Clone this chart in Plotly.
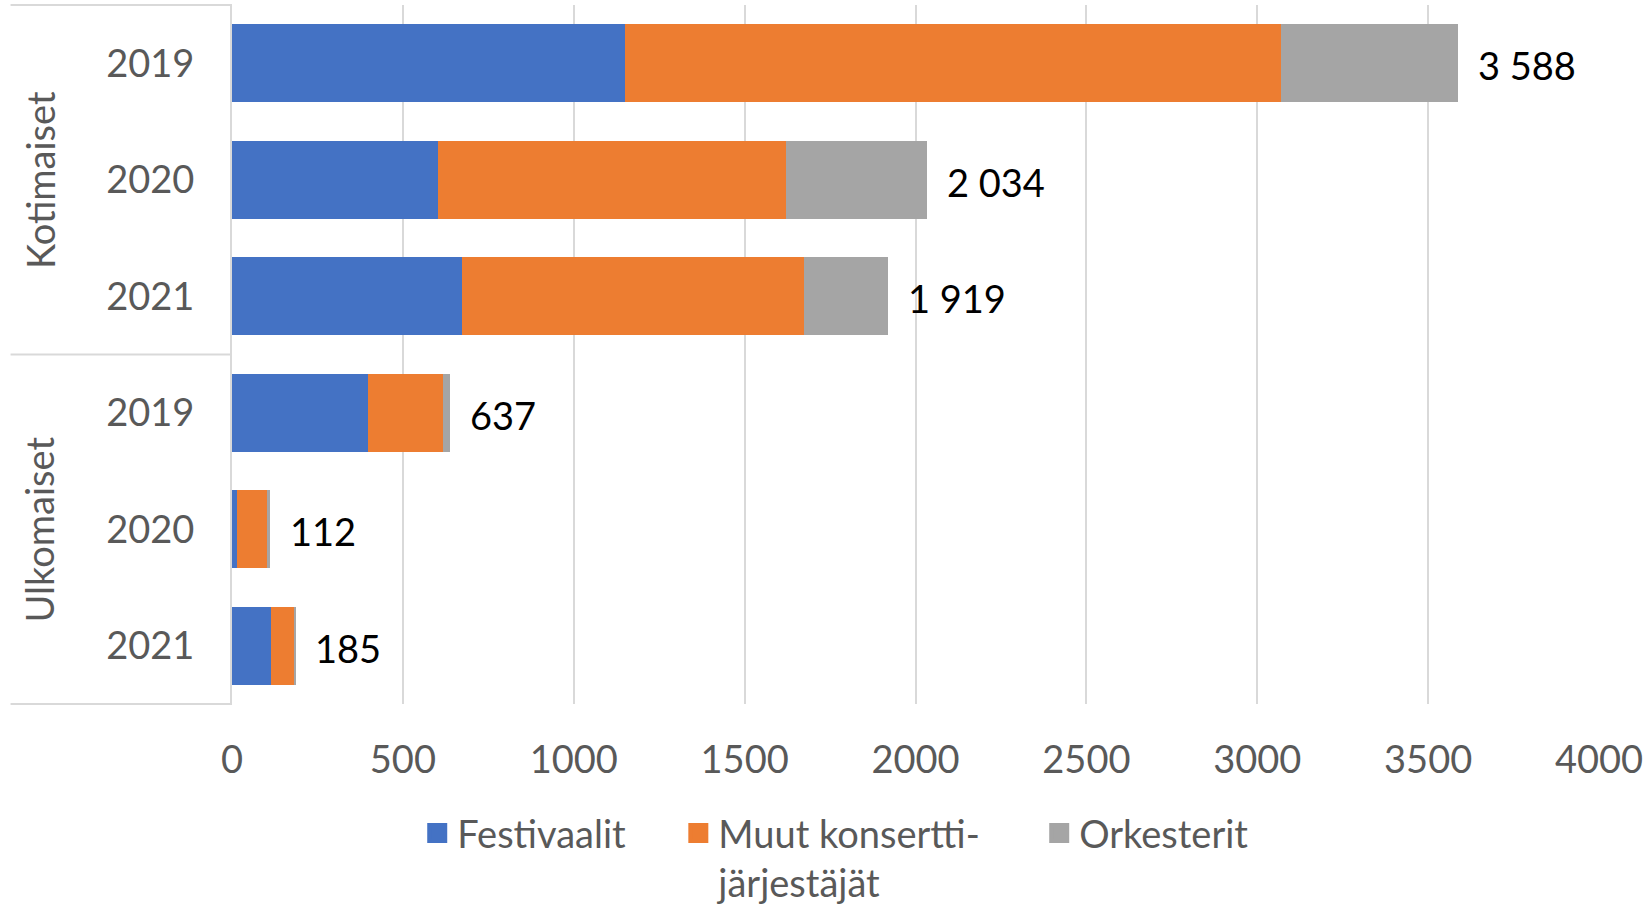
import plotly.graph_objects as go

# -----------------------------
# Data
groups = ["Kotimaiset", "Kotimaiset", "Kotimaiset", "Ulkomaiset", "Ulkomaiset", "Ulkomaiset"]
years = ["2019", "2020", "2021", "2019", "2020", "2021"]

festivaalit = [1150, 603, 673, 398, 15, 114]
muut = [1920, 1017, 1002, 220, 87, 69]
orkesterit = [518, 414, 244, 19, 10, 2]
totals = [3588, 2034, 1919, 637, 112, 185]

series_names = ["Festivaalit", "Muut konsertti-<br>järjestäjät", "Orkesterit"]
colors = ["#4472C4", "#ED7D31", "#A5A5A5"]

x_ticks = [0, 500, 1000, 1500, 2000, 2500, 3000, 3500, 4000]

# -----------------------------
FONT = "Lato, Open Sans, sans-serif"
FS = 38
keys = [f"{g} {y}" for g, y in zip(groups, years)]
legend_ids = ["legend", "legend2", "legend3"]
legend_x = [0.1355, 0.3265, 0.5905]

fig = go.Figure()
for name, vals, col in zip(series_names, [festivaalit, muut, orkesterit], colors):
    fig.add_trace(go.Bar(
        y=keys, x=vals, name=name, orientation="h",
        marker=dict(color=col, line=dict(width=0)),
        hoverinfo="x+name", showlegend=False, legendgroup=name,
    ))

# legend entries with bigger square swatches, one legend box per entry
for name, col, lid in zip(series_names, colors, legend_ids):
    fig.add_trace(go.Scatter(
        x=[None], y=[None], mode="markers", name=name, legendgroup=name, legend=lid,
        marker=dict(symbol="square", size=16, color=col, line=dict(color=col, width=4)),
        showlegend=True, hoverinfo="skip",
    ))

# data labels: totals, formatted with a space as thousands separator
for k, t in zip(keys, totals):
    fig.add_annotation(
        x=t, y=k, xref="x", yref="y",
        text=f"{t:,}".replace(",", " "),
        showarrow=False, xanchor="left", xshift=18, yshift=-2,
        font=dict(family=FONT, size=FS, color="#000000"),
    )

# group labels (rotated) on the left
for g in ["Kotimaiset", "Ulkomaiset"]:
    idx = [i for i, gg in enumerate(groups) if gg == g]
    mid = keys[idx[len(idx) // 2]]
    fig.add_annotation(
        x=-0.141, y=mid, xref="paper", yref="y",
        text=g, textangle=-90, showarrow=False,
        xanchor="center", yanchor="middle",
        font=dict(family=FONT, size=FS, color="#595959"),
    )

# category box lines
line_style = dict(color="#D9D9D9", width=2)
fig.add_shape(type="line", xref="paper", yref="paper", x0=-0.162, x1=0, y0=1, y1=1, line=line_style)
fig.add_shape(type="line", xref="paper", yref="paper", x0=-0.162, x1=0, y0=0, y1=0, line=line_style)
fig.add_shape(type="line", xref="paper", yref="y", x0=-0.162, x1=0, y0=2.5, y1=2.5, line=line_style)

legend_style = dict(
    orientation="h", xanchor="left", y=-0.14, yanchor="top", valign="top",
    font=dict(family=FONT, size=FS, color="#595959"), bgcolor="rgba(0,0,0,0)",
)

fig.update_layout(
    barmode="stack",
    bargap=0.33,
    width=1647, height=908,
    margin=dict(l=232, r=48, t=5, b=204, autoexpand=False),
    paper_bgcolor="white", plot_bgcolor="white",
    font=dict(family=FONT, size=FS, color="#595959"),
    legend=dict(legend_style, x=legend_x[0]),
    legend2=dict(legend_style, x=legend_x[1]),
    legend3=dict(legend_style, x=legend_x[2]),
    xaxis=dict(
        range=[0, 4000], tickvals=x_ticks, showgrid=True,
        gridcolor="#D9D9D9", gridwidth=2, zeroline=False,
        showline=False, ticks="", ticklabelstandoff=30, automargin=False,
        tickfont=dict(family=FONT, size=FS, color="#595959"),
    ),
    yaxis=dict(
        type="category", categoryorder="array", categoryarray=keys,
        autorange="reversed", tickvals=keys, ticktext=years,
        showline=True, linecolor="#D9D9D9", linewidth=2,
        ticks="", ticklabelstandoff=28, showgrid=False, automargin=False,
        tickfont=dict(family=FONT, size=FS, color="#595959"),
    ),
)

# the page's default body margin would push the chart 8px off the viewport
fig.write_html(
    "out.html",
    config={"displayModeBar": False},
    post_script="document.body.style.margin='0';",
)
